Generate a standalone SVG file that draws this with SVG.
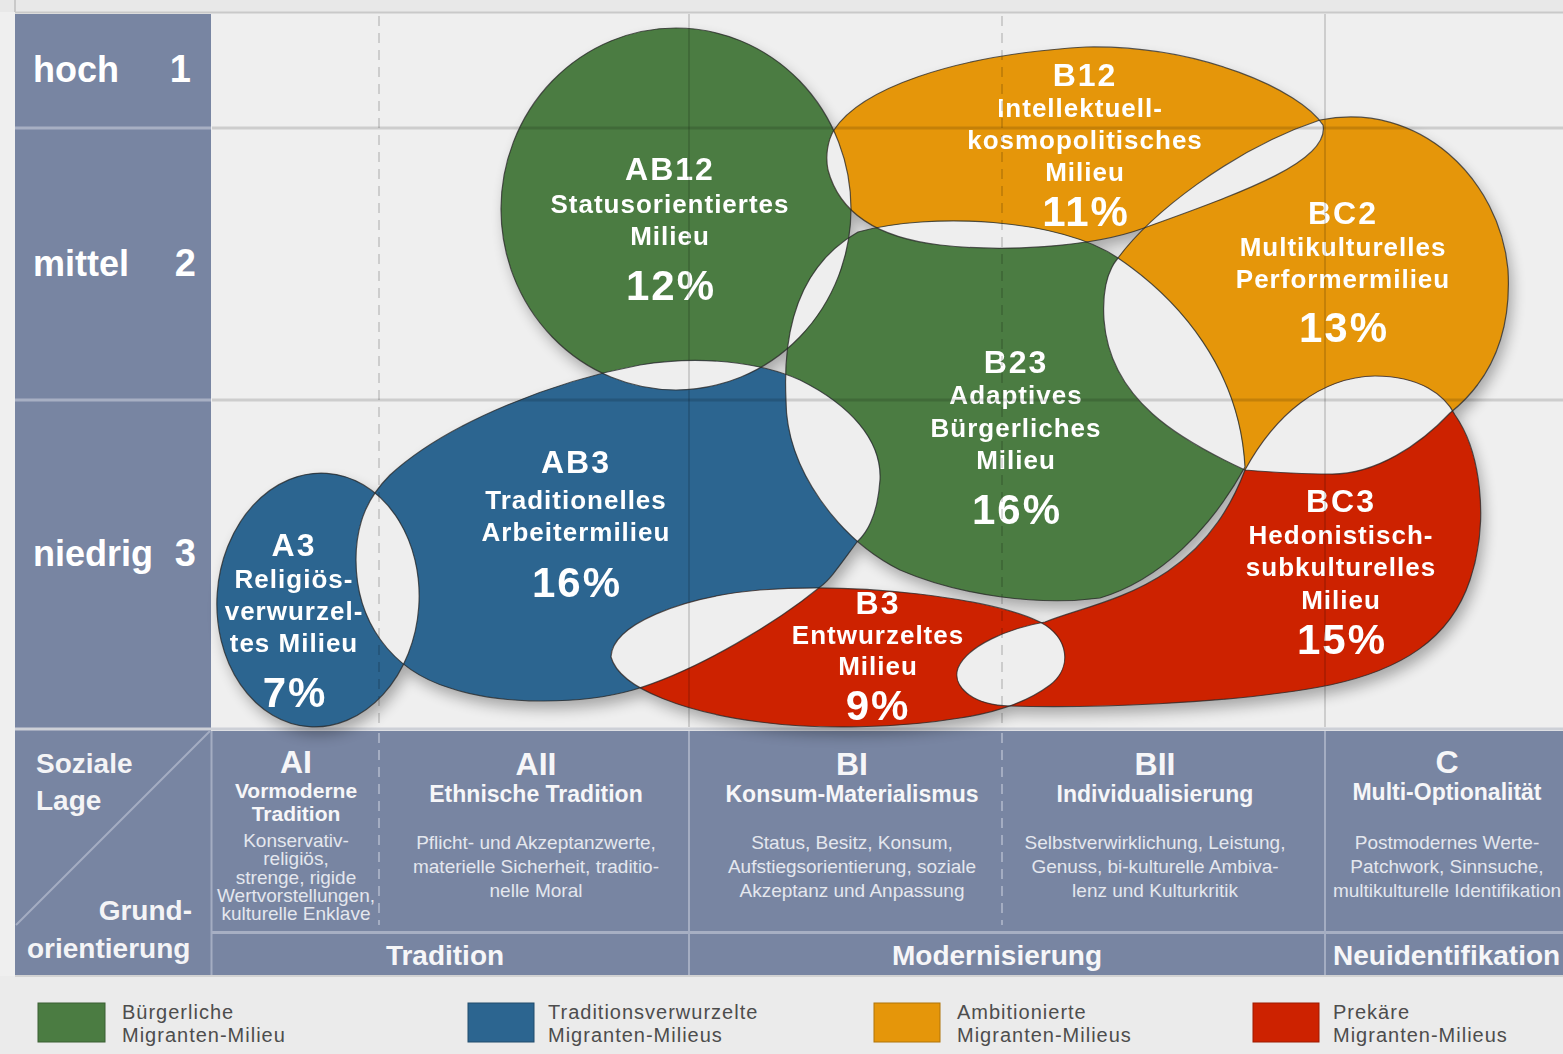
<svg xmlns="http://www.w3.org/2000/svg" width="1563" height="1054" viewBox="0 0 1563 1054">
<style>
text{font-family:"Liberation Sans",Arial,"DejaVu Sans",sans-serif}
.g{fill:#4b7c42}.b{fill:#2c6590}.o{fill:#e5960a}.r{fill:#cd2200}
.lens{fill:#eeeeee}
.out{fill:none;stroke:#262626;stroke-width:1.2;stroke-opacity:.75}
.lbl{font-weight:bold;fill:#fff;text-anchor:middle}
.code{font-size:32px;letter-spacing:2px}
.desc{font-size:26px;letter-spacing:1px}
.pct{font-size:42px;letter-spacing:2px}
.side{font-weight:bold;fill:#fff;font-size:36px}
.num{font-weight:bold;fill:#fff;font-size:38px;text-anchor:end}
.corner{font-weight:bold;fill:#f4f4f6;font-size:28px}
.hd{font-weight:bold;fill:#f6f6f8;text-anchor:middle}
.h1{font-size:32px}.h2{font-size:23px}.h3{font-size:21px}
.sm{fill:#e4e7ee;font-size:19px;text-anchor:middle}
.bot{font-weight:bold;fill:#f6f6f8;font-size:28px}
.leg{fill:#4d4d4d;font-size:20px;letter-spacing:1px}
.grid{stroke:#000;stroke-opacity:.14;fill:none}
.tl{stroke:#a4adc2;stroke-width:2;fill:none}
</style>
<defs>
<ellipse id="s-ab12" cx="676" cy="209" rx="175" ry="181"/>
<ellipse id="s-a3" cx="318" cy="600" rx="101" ry="127" transform="rotate(4 318 600)"/>
<path id="s-b12" d="M834,130 C860,90 950,55 1086,47 C1200,45 1300,90 1323,125 C1330,160 1250,190 1144,228 C1090,248 1000,252 940,245 C880,238 840,215 828,170 C825,155 828,140 834,130 Z"/>
<path id="s-bc2" d="M1245,470 C1180,440 1110,400 1104,320 C1102,290 1108,270 1118,258 C1150,215 1230,150 1320,120 C1420,100 1500,180 1508,270 C1512,340 1485,385 1450,413 C1420,445 1375,475 1330,474 C1300,474 1270,472 1245,470 Z"/>
<path id="s-b23" d="M786,400 C782,320 805,262 858,232 C930,212 1060,218 1118,258 C1180,300 1240,370 1245,467 C1210,530 1160,580 1100,598 C1040,606 960,596 900,570 C840,540 786,470 786,400 Z"/>
<path id="s-ab3" d="M356,560 C356,520 370,495 390,475 C450,420 560,380 640,365 C700,355 760,362 800,380 C850,405 882,440 880,480 C878,510 870,530 857,542 C840,565 830,580 820,587 C780,620 700,670 633,690 C580,705 500,705 450,688 C390,670 356,620 356,560 Z"/>
<path id="s-b3" d="M611,657 C612,625 680,597 760,590 C860,582 990,598 1040,622 C1070,638 1072,668 1050,685 C1030,700 1000,712 960,718 C900,728 820,730 760,722 C690,713 620,690 611,657 Z"/>
<path id="s-bc3" d="M1045,622 C1100,600 1200,590 1245,470 C1275,415 1320,377 1375,376 C1420,376 1445,395 1455,415 C1480,450 1490,520 1470,580 C1450,640 1400,670 1330,685 C1230,705 1080,708 1010,706 C970,705 952,685 958,668 C968,645 1010,628 1045,622 Z"/>
<clipPath id="c-ab12"><use href="#s-ab12"/></clipPath>
<clipPath id="c-a3"><use href="#s-a3"/></clipPath>
<clipPath id="c-b12"><use href="#s-b12"/></clipPath>
<clipPath id="c-bc2"><use href="#s-bc2"/></clipPath>
<clipPath id="c-b23"><use href="#s-b23"/></clipPath>
<clipPath id="c-ab3"><use href="#s-ab3"/></clipPath>
<clipPath id="c-b3"><use href="#s-b3"/></clipPath>
<clipPath id="c-bc3"><use href="#s-bc3"/></clipPath>
<filter id="sh" x="-10%" y="-10%" width="120%" height="130%"><feGaussianBlur stdDeviation="7"/></filter>
</defs>

<!-- background -->
<rect x="0" y="0" width="1563" height="1054" fill="#efefef"/>
<rect x="0" y="0" width="1563" height="12" fill="#e8e8e8"/>
<line x1="15" y1="12.5" x2="1563" y2="12.5" stroke="#c9c9c9" stroke-width="2"/>
<line x1="15" y1="0" x2="15" y2="12" stroke="#c9c9c9" stroke-width="2"/>

<!-- left column and bottom table -->
<g id="axis">
<rect x="15" y="14" width="196" height="961" fill="#7885a2"/>
<rect x="15" y="126.5" width="196" height="3" fill="#a7afc3"/>
<rect x="15" y="398.5" width="196" height="3" fill="#a7afc3"/>
<rect x="15" y="727.5" width="1548" height="3" fill="#cdd0d7"/>
<rect x="212" y="731" width="1351" height="244" fill="#7885a2"/>
<rect x="212" y="931" width="1351" height="3" fill="#a7afc3"/>
<rect x="0" y="976" width="1563" height="78" fill="#ebebeb"/>
<line x1="15" y1="976" x2="1563" y2="976" stroke="#d2d2d2" stroke-width="2"/>
<line class="tl" x1="211.5" y1="731" x2="211.5" y2="975"/>
<line class="tl" x1="210" y1="731" x2="16" y2="925"/>
<line class="tl" x1="379" y1="733" x2="379" y2="925" stroke-dasharray="10 7"/>
<line class="tl" x1="689" y1="731" x2="689" y2="975"/>
<line class="tl" x1="1002" y1="733" x2="1002" y2="925" stroke-dasharray="10 7"/>
<line class="tl" x1="1325" y1="731" x2="1325" y2="975"/>

<text class="side" x="33" y="82">hoch</text><text class="num" x="191" y="82">1</text>
<text class="side" x="33" y="276">mittel</text><text class="num" x="196" y="276">2</text>
<text class="side" x="33" y="566">niedrig</text><text class="num" x="196" y="566">3</text>

<text class="corner" x="36" y="773">Soziale</text>
<text class="corner" x="36" y="810">Lage</text>
<text class="corner" x="192" y="920" text-anchor="end">Grund-</text>
<text class="corner" x="27" y="958">orientierung</text>

<text class="hd h1" x="296" y="773">AI</text>
<text class="hd h3" x="296" y="798">Vormoderne</text>
<text class="hd h3" x="296" y="821">Tradition</text>
<text class="sm" x="296" y="847">Konservativ-</text>
<text class="sm" x="296" y="865">religiös,</text>
<text class="sm" x="296" y="884">strenge, rigide</text>
<text class="sm" x="296" y="902">Wertvorstellungen,</text>
<text class="sm" x="296" y="920">kulturelle Enklave</text>

<text class="hd h1" x="536" y="775">AII</text>
<text class="hd h2" x="536" y="802">Ethnische Tradition</text>
<text class="sm" x="536" y="849">Pflicht- und Akzeptanzwerte,</text>
<text class="sm" x="536" y="873">materielle Sicherheit, traditio-</text>
<text class="sm" x="536" y="897">nelle Moral</text>

<text class="hd h1" x="852" y="775">BI</text>
<text class="hd h2" x="852" y="802">Konsum-Materialismus</text>
<text class="sm" x="852" y="849">Status, Besitz, Konsum,</text>
<text class="sm" x="852" y="873">Aufstiegsorientierung, soziale</text>
<text class="sm" x="852" y="897">Akzeptanz und Anpassung</text>

<text class="hd h1" x="1155" y="775">BII</text>
<text class="hd h2" x="1155" y="802">Individualisierung</text>
<text class="sm" x="1155" y="849">Selbstverwirklichung, Leistung,</text>
<text class="sm" x="1155" y="873">Genuss, bi-kulturelle Ambiva-</text>
<text class="sm" x="1155" y="897">lenz und Kulturkritik</text>

<text class="hd h1" x="1447" y="773">C</text>
<text class="hd h2" x="1447" y="800">Multi-Optionalität</text>
<text class="sm" x="1447" y="849">Postmodernes Werte-</text>
<text class="sm" x="1447" y="873">Patchwork, Sinnsuche,</text>
<text class="sm" x="1447" y="897">multikulturelle Identifikation</text>

<text class="bot" x="445" y="965" text-anchor="middle">Tradition</text>
<text class="bot" x="997" y="965" text-anchor="middle">Modernisierung</text>
<text class="bot" x="1333" y="965">Neuidentifikation</text>
</g>

<!-- legend -->
<g id="legend">
<rect x="38" y="1003" width="67" height="39" class="g" stroke="#3a5f33" stroke-width="1"/>
<text class="leg" x="122" y="1019">Bürgerliche</text>
<text class="leg" x="122" y="1042">Migranten-Milieu</text>
<rect x="468" y="1003" width="66" height="39" class="b" stroke="#214d6d" stroke-width="1"/>
<text class="leg" x="548" y="1019">Traditionsverwurzelte</text>
<text class="leg" x="548" y="1042">Migranten-Milieus</text>
<rect x="874" y="1003" width="66" height="39" class="o" stroke="#b07408" stroke-width="1"/>
<text class="leg" x="957" y="1019">Ambitionierte</text>
<text class="leg" x="957" y="1042">Migranten-Milieus</text>
<rect x="1253" y="1003" width="66" height="39" class="r" stroke="#9e1a00" stroke-width="1"/>
<text class="leg" x="1333" y="1019">Prekäre</text>
<text class="leg" x="1333" y="1042">Migranten-Milieus</text>
</g>

<!-- shadow -->
<g filter="url(#sh)" opacity=".3" transform="translate(4 8)" fill="#000">
<use href="#s-ab12"/><use href="#s-a3"/><use href="#s-b12"/><use href="#s-bc2"/>
<use href="#s-b23"/><use href="#s-ab3"/><use href="#s-b3"/><use href="#s-bc3"/>
</g>

<!-- nodes -->
<g id="node-AB12"><use href="#s-ab12" class="g"/>
<text class="lbl code" x="670" y="180">AB12</text>
<text class="lbl desc" x="670" y="213">Statusorientiertes</text>
<text class="lbl desc" x="670" y="245">Milieu</text>
<text class="lbl pct" x="671" y="300">12%</text></g>

<g id="node-B12"><use href="#s-b12" class="o"/>
<text class="lbl code" x="1085" y="86">B12</text>
<text class="lbl desc" x="1080" y="117">Intellektuell-</text>
<text class="lbl desc" x="1085" y="149">kosmopolitisches</text>
<text class="lbl desc" x="1085" y="181">Milieu</text>
<text class="lbl pct" x="1086" y="226">11%</text></g>

<g id="node-BC2"><use href="#s-bc2" class="o"/>
<text class="lbl code" x="1343" y="224">BC2</text>
<text class="lbl desc" x="1343" y="256">Multikulturelles</text>
<text class="lbl desc" x="1343" y="288">Performermilieu</text>
<text class="lbl pct" x="1344" y="342">13%</text></g>

<g id="node-B23"><use href="#s-b23" class="g"/>
<text class="lbl code" x="1016" y="373">B23</text>
<text class="lbl desc" x="1016" y="404">Adaptives</text>
<text class="lbl desc" x="1016" y="437">Bürgerliches</text>
<text class="lbl desc" x="1016" y="469">Milieu</text>
<text class="lbl pct" x="1017" y="524">16%</text></g>

<g id="node-AB3"><use href="#s-ab3" class="b"/>
<text class="lbl code" x="576" y="473">AB3</text>
<text class="lbl desc" x="576" y="509">Traditionelles</text>
<text class="lbl desc" x="576" y="541">Arbeitermilieu</text>
<text class="lbl pct" x="577" y="597">16%</text></g>

<g id="node-A3"><use href="#s-a3" class="b"/>
<text class="lbl code" x="294" y="556">A3</text>
<text class="lbl desc" x="294" y="588">Religiös-</text>
<text class="lbl desc" x="294" y="620">verwurzel-</text>
<text class="lbl desc" x="294" y="652">tes Milieu</text>
<text class="lbl pct" x="295" y="707">7%</text></g>

<g id="node-B3"><use href="#s-b3" class="r"/>
<text class="lbl code" x="878" y="614" font-size="30">B3</text>
<text class="lbl desc" x="878" y="644" font-size="25">Entwurzeltes</text>
<text class="lbl desc" x="878" y="675" font-size="25">Milieu</text>
<text class="lbl pct" x="878" y="720">9%</text></g>

<g id="node-BC3"><use href="#s-bc3" class="r"/>
<text class="lbl code" x="1341" y="512">BC3</text>
<text class="lbl desc" x="1341" y="544">Hedonistisch-</text>
<text class="lbl desc" x="1341" y="576">subkulturelles</text>
<text class="lbl desc" x="1341" y="609">Milieu</text>
<text class="lbl pct" x="1342" y="654">15%</text></g>

<!-- overlaps (shown as background, exclusive-or look) -->
<g id="overlaps" class="lens">
<use href="#s-a3" clip-path="url(#c-ab3)"/>
<use href="#s-ab12" clip-path="url(#c-ab3)"/>
<use href="#s-ab12" clip-path="url(#c-b23)"/>
<use href="#s-ab12" clip-path="url(#c-b12)"/>
<use href="#s-b12" clip-path="url(#c-b23)"/>
<use href="#s-b12" clip-path="url(#c-bc2)"/>
<use href="#s-b23" clip-path="url(#c-bc2)"/>
<use href="#s-b23" clip-path="url(#c-ab3)"/>
<use href="#s-b23" clip-path="url(#c-b3)"/>
<use href="#s-b23" clip-path="url(#c-bc3)"/>
<use href="#s-ab3" clip-path="url(#c-b3)"/>
<use href="#s-b3" clip-path="url(#c-bc3)"/>
<use href="#s-bc2" clip-path="url(#c-bc3)"/>
</g>

<!-- grid over plot -->
<g id="grid" class="grid">
<line x1="212" y1="128" x2="1563" y2="128" stroke-width="3"/>
<line x1="212" y1="400" x2="1563" y2="400" stroke-width="3"/>
<line x1="379" y1="16" x2="379" y2="727" stroke-width="2" stroke-dasharray="10 7"/>
<line x1="689" y1="14" x2="689" y2="727" stroke-width="2"/>
<line x1="1002" y1="16" x2="1002" y2="727" stroke-width="2" stroke-dasharray="10 7"/>
<line x1="1325" y1="14" x2="1325" y2="727" stroke-width="2"/>
</g>

<!-- outlines -->
<g id="outlines" class="out">
<use href="#s-ab12"/><use href="#s-a3"/><use href="#s-b12"/><use href="#s-bc2"/>
<use href="#s-b23"/><use href="#s-ab3"/><use href="#s-b3"/><use href="#s-bc3"/>
</g>
</svg>
